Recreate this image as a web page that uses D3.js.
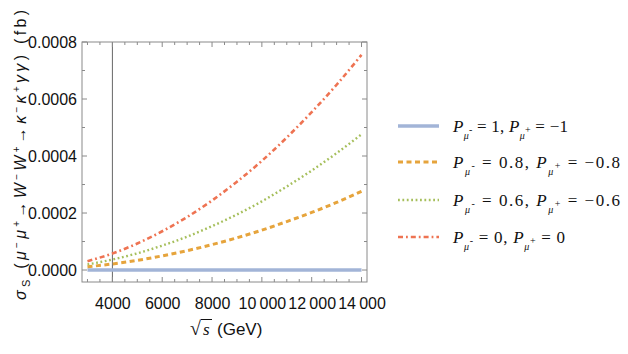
<!DOCTYPE html>
<html><head><meta charset="utf-8">
<script src="https://cdn.jsdelivr.net/npm/d3@7"></script>
<style>body{margin:0;background:#fff;} svg{display:block;}</style>
</head><body>
<svg id="c" width="628" height="354"></svg>
<script>
// ---- data ----
const sqrtS = [3000,4000,5000,6000,7000,8000,9000,10000,11000,12000,13000,14000];
const pol1  = [0,0,0,0,0,0,0,0,0,0,0,0];
const pol08 = [0.0000114,0.0000213,0.000034,0.0000496,0.0000679,0.0000891,0.000113,0.00014,0.00017,0.000202,0.000237,0.000276];
const pol06 = [0.0000197,0.0000367,0.0000587,0.0000857,0.000117,0.000154,0.000195,0.000241,0.000293,0.000349,0.00041,0.000476];
const pol0  = [0.000031,0.000058,0.000093,0.000136,0.000186,0.000244,0.00031,0.000383,0.000465,0.000554,0.00065,0.000755];
const xTicks = [4000,6000,8000,10000,12000,14000];
const xTickLabels = ["4000","6000","8000","10\u2009000","12\u2009000","14\u2009000"];
const yTicks = [0,0.0002,0.0004,0.0006,0.0008];
const yTickLabels = ["0.0000","0.0002","0.0004","0.0006","0.0008"];
const legendVals = [["1","\u22121"],["0.8","\u22120.8"],["0.6","\u22120.6"],["0","0"]];

const series = [
  {v:pol1,  color:"#a2b4d7", w:3.4, dash:null},
  {v:pol08, color:"#e6a43c", w:3,   dash:"5,3.5"},
  {v:pol06, color:"#a6bf5c", w:2.4, dash:"1.8,2.6"},
  {v:pol0,  color:"#ee7352", w:2.6, dash:"5,3,1.8,3"}
];

const L=82, R=367, T=42, B=282;
const x = d3.scaleLinear().domain([2780,14220]).range([L,R]);
const y = d3.scaleLinear().domain([-0.000042,0.0008]).range([B,T]);
const svg = d3.select("#c");
const tickFont = "'Liberation Sans Narrow','Liberation Sans',Arial,sans-serif";
const frameCol = "#8a8a8a";

// gridline at 4000
svg.append("line").attr("x1",x(4000)).attr("x2",x(4000)).attr("y1",T).attr("y2",B)
  .attr("stroke","#666").attr("stroke-width",1);

// curves
const line = d3.line().x((d,i)=>x(sqrtS[i])).y(d=>y(d)).curve(d3.curveMonotoneX);
series.forEach(s=>{
  svg.append("path").attr("d",line(s.v)).attr("fill","none")
    .attr("stroke",s.color).attr("stroke-width",s.w)
    .attr("stroke-dasharray",s.dash);
});

// frame
svg.append("rect").attr("x",L).attr("y",T).attr("width",R-L).attr("height",B-T)
  .attr("fill","none").attr("stroke",frameCol).attr("stroke-width",1);

// ticks (inward on all sides)
const xMinor = d3.range(3000,14001,500);
const yMinor = d3.range(0,0.00081,0.0001);
const tg = svg.append("g").attr("stroke",frameCol).attr("stroke-width",1);
xMinor.forEach(v=>{
  const major = xTicks.includes(v);
  const len = major?5:3;
  tg.append("line").attr("x1",x(v)).attr("x2",x(v)).attr("y1",B).attr("y2",B-len);
  tg.append("line").attr("x1",x(v)).attr("x2",x(v)).attr("y1",T).attr("y2",T+len);
});
yMinor.forEach(v=>{
  const major = Math.round(v*10000)%2===0;
  const len = major?5:3;
  tg.append("line").attr("y1",y(v)).attr("y2",y(v)).attr("x1",L).attr("x2",L+len);
  tg.append("line").attr("y1",y(v)).attr("y2",y(v)).attr("x1",R).attr("x2",R-len);
});

// axes labels via d3 axes (lines hidden)
const xAxis = svg.append("g").attr("transform",`translate(0,${B})`)
  .call(d3.axisBottom(x).tickValues(xTicks).tickFormat((d,i)=>xTickLabels[i]).tickSize(0).tickPadding(16));
xAxis.select(".domain").remove();
xAxis.selectAll("text").attr("font-family",tickFont).attr("font-size",16).attr("fill","#111");
const yAxis = svg.append("g").attr("transform",`translate(${L},0)`)
  .call(d3.axisLeft(y).tickValues(yTicks).tickFormat((d,i)=>yTickLabels[i]).tickSize(0).tickPadding(5));
yAxis.select(".domain").remove();
yAxis.selectAll("text").attr("font-family",tickFont).attr("font-size",16).attr("fill","#111");

// x axis title: sqrt(s) (GeV)
const xt = svg.append("g");
xt.append("text").attr("x",190).attr("y",335).attr("font-family","'Liberation Serif',serif")
  .attr("font-size",20).attr("fill","#111").text("\u221A");
xt.append("text").attr("x",203).attr("y",335).attr("font-family","'Liberation Serif',serif")
  .attr("font-style","italic").attr("font-size",17).attr("fill","#111").text("s");
xt.append("line").attr("x1",201).attr("x2",212).attr("y1",319.5).attr("y2",319.5).attr("stroke","#111").attr("stroke-width",1);
xt.append("text").attr("x",217).attr("y",335).attr("font-family",tickFont)
  .attr("font-size",17).attr("fill","#111").text("(GeV)");

// y axis title
const yt = svg.append("text").attr("transform","translate(26,300) rotate(-90)")
  .attr("font-family","'Liberation Sans',Arial,sans-serif").attr("font-size",16).attr("fill","#111")
  .attr("textLength",290).attr("lengthAdjust","spacing");
function ts(el,txt,opt){const t=el.append("tspan").text(txt);
  if(opt){if(opt.it)t.attr("font-style","italic");if(opt.fs)t.attr("font-size",opt.fs);if(opt.dy)t.attr("dy",opt.dy);if(opt.ff)t.attr("font-family",opt.ff);} return t;}
ts(yt,"\u03C3",{it:1});
ts(yt,"S",{fs:11,dy:4});
ts(yt," (",{dy:-4});
ts(yt,"\u03BC",{it:1}); ts(yt,"\u2212",{fs:10,dy:-6}); ts(yt,"\u03BC",{it:1,dy:6}); ts(yt,"+",{fs:10,dy:-6});
ts(yt,"\u2192",{dy:6});
ts(yt,"W",{it:1}); ts(yt,"\u2212",{fs:10,dy:-6}); ts(yt,"W",{it:1,dy:6}); ts(yt,"+",{fs:10,dy:-6});
ts(yt,"\u2192",{dy:6});
ts(yt,"\u03BA",{it:1}); ts(yt,"\u2212",{fs:10,dy:-6}); ts(yt,"\u03BA",{it:1,dy:6}); ts(yt,"+",{fs:10,dy:-6});
ts(yt,"\u03B3\u03B3",{it:1,dy:6});
ts(yt,") (fb)");

// legend
const legY = [126,162,200,237];
const legW = [115,167,167,112];
const serif = "'Liberation Serif','Times New Roman',serif";
series.forEach((s,i)=>{
  svg.append("line").attr("x1",398).attr("x2",439).attr("y1",legY[i]).attr("y2",legY[i])
    .attr("stroke",s.color).attr("stroke-width",s.w).attr("stroke-dasharray",s.dash);
  const t = svg.append("text").attr("x",453).attr("y",legY[i]+6).attr("font-family",serif)
    .attr("font-size",17).attr("fill","#111").attr("textLength",legW[i]).attr("lengthAdjust","spacing");
  const sep = i===0 ? ", " : ",  ";
  ts(t,"P",{it:1}); ts(t,"\u03BC",{it:1,fs:10,dy:7}); ts(t,"-",{fs:10,dy:-6});
  ts(t," = "+legendVals[i][0]+sep,{dy:-1});
  ts(t,"P",{it:1}); ts(t,"\u03BC",{it:1,fs:10,dy:7}); ts(t,"+",{fs:10,dy:-6});
  ts(t," = "+legendVals[i][1],{dy:-1});
});
</script>
</body></html>
